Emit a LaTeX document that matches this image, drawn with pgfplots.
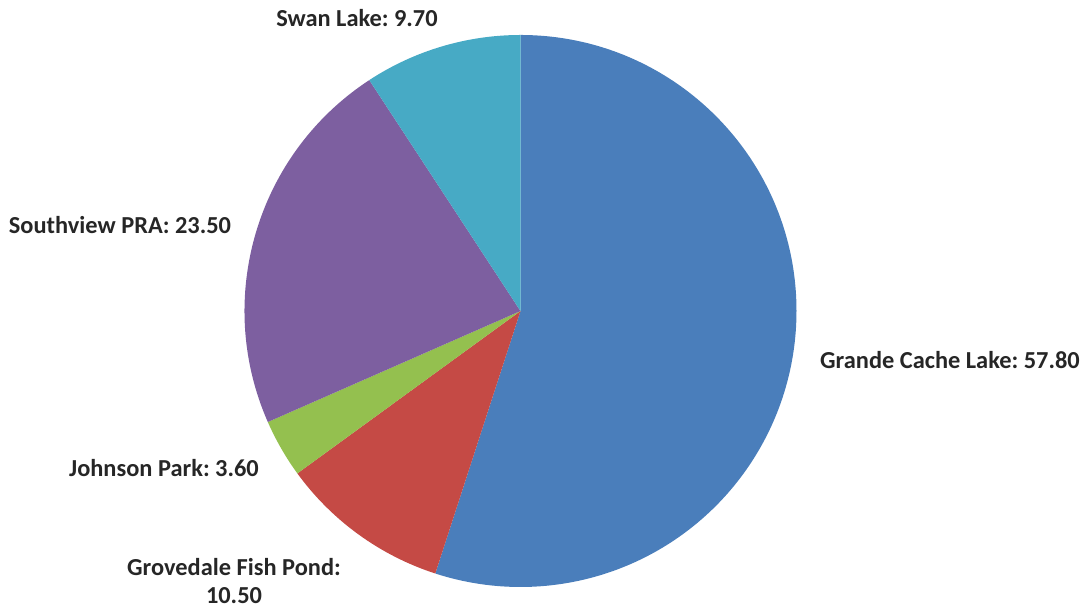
\documentclass[border=0pt]{standalone}
\usepackage{pgfplots}
\pgfplotsset{compat=1.18}
\usepackage{fontspec}
\setmainfont{Carlito}
\frenchspacing
\definecolor{cBlue}{HTML}{4A7EBB}
\definecolor{cRed}{HTML}{C54A45}
\definecolor{cGreen}{HTML}{94C04F}
\definecolor{cPurple}{HTML}{7D5FA0}
\definecolor{cCyan}{HTML}{47AAC5}
\begin{document}
\begin{tikzpicture}
\begin{axis}[
  scale only axis, width=544.5pt, height=304pt,
  xmin=0, xmax=1089, ymin=0, ymax=608, y dir=reverse,
  hide axis, clip=false,
]
\coordinate (c) at (axis cs:520.5,311);
\addplot[draw=none] coordinates {(0,0) (1089,608)};
\tikzset{lab/.style={font=\bfseries\fontsize{12.2}{14}\selectfont, text=black!85, inner sep=0pt}}
\node[lab] at (axis cs:357,18) {Swan Lake: 9.70};
\node[lab] at (axis cs:120,225) {Southview PRA: 23.50};
\node[lab] at (axis cs:950,360) {Grande Cache Lake: 57.80};
\node[lab] at (axis cs:164,468) {Johnson Park: 3.60};
\node[lab, align=center] at (axis cs:234,581) {Grovedale Fish Pond:\\10.50};
\end{axis}
\def\total{105.1}
\def\start{90}
\foreach \v/\col in {57.8/cBlue, 10.5/cRed, 3.6/cGreen, 23.5/cPurple, 9.7/cCyan} {
  \pgfmathsetmacro{\sweep}{\v/\total*360}
  \pgfmathsetmacro{\en}{\start-\sweep}
  \fill[\col] (c) -- ++(\start:138pt) arc[start angle=\start, end angle=\en, radius=138pt] -- cycle;
  \global\let\start\en
}
\end{tikzpicture}
\end{document}
